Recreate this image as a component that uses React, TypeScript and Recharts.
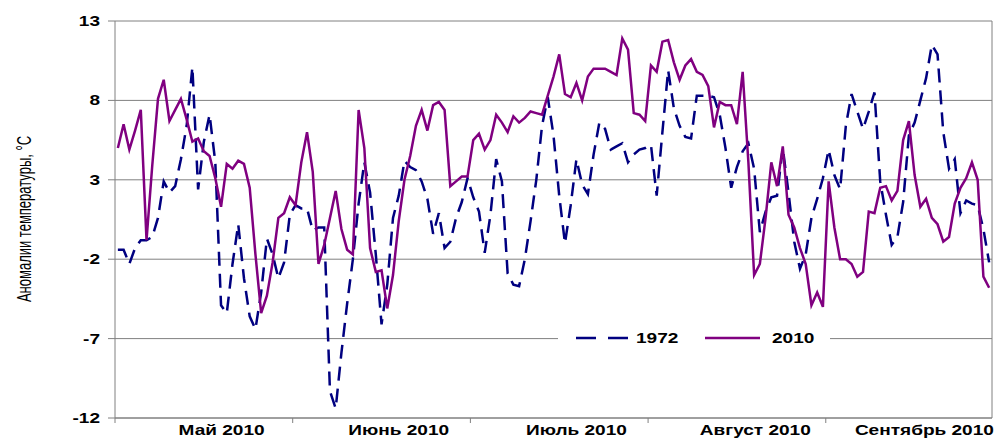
import React from 'react';
import { LineChart, Line, XAxis, YAxis, CartesianGrid, Legend, ReferenceLine } from 'recharts';

// daily anomalies, 1 May .. 30 Sep (153 days)
const y1972 = [
  -1.4, -1.4, -2.3, -1.3, -0.8, -0.8, -0.6, 0.6, 2.9, 2.2,
  2.6, 4.3, 6.4, 10.1, 2.4, 5.4, 7.1, 4.1, -4.9, -5.4,
  -2.3, 0.2, -3.2, -5.6, -6.4, -4.1, -0.7, -1.7, -3.2, -2.2,
  0.8, 1.4, 1.2, 1.2, -0.2, 0.0, 0.0, -10.3, -11.4, -7.9,
  -4.8, -2.0, 1.5, 4.1, 2.2, -1.7, -6.1, -3.6, 0.6, 2.0,
  4.2, 3.8, 3.6, 2.9, 1.8, -0.4, 0.9, -1.3, -0.9, 0.6,
  1.6, 3.1, 1.9, 1.0, -1.6, 0.8, 4.3, 2.9, -2.9, -3.6,
  -3.7, -2.0, 0.4, 3.0, 6.4, 8.2, 5.8, 2.0, -1.0, 1.4,
  4.3, 2.7, 2.1, 4.6, 6.6, 6.2, 4.9, 5.1, 5.3, 4.1,
  4.6, 4.9, 5.0, 5.2, 2.0, 6.0, 9.9, 7.5, 6.4, 5.7,
  5.6, 8.3, 8.3, 8.3, 8.2, 7.1, 5.0, 2.5, 3.8, 4.8,
  5.3, 3.7, -0.3, 1.0, 1.9, 2.0, 5.0, 2.2, -0.9, -2.6,
  -1.7, 0.6, 1.8, 3.1, 4.9, 3.3, 2.4, 6.4, 8.4, 7.3,
  6.2, 7.3, 8.5, 2.9, 0.8, -1.1, -0.6, 1.6, 5.8, 6.6,
  8.0, 9.4, 11.5, 10.9, 6.0, 3.7, 4.3, 0.9, 1.7, 1.5,
  1.4, -0.1, -2.2,
];

const y2010 = [
  5.0, 6.5, 4.9, 6.1, 7.4, -0.8, 3.9, 8.1, 9.3, 6.7,
  7.4, 8.1, 6.8, 5.4, 5.6, 4.8, 4.5, 3.1, 1.3, 4.0,
  3.7, 4.2, 4.0, 2.5, -1.7, -5.4, -4.3, -2.2, 0.6, 0.9,
  1.9, 1.4, 4.1, 6.0, 3.5, -2.3, -1.1, 0.6, 2.3, -0.1,
  -1.4, -1.7, 7.4, 5.0, -1.3, -2.8, -2.7, -5.1, -3.0, 0.4,
  3.0, 4.5, 6.4, 7.4, 6.1, 7.7, 7.9, 7.4, 2.6, 2.9,
  3.2, 3.2, 5.5, 5.9, 4.9, 5.5, 7.1, 6.6, 6.0, 7.0,
  6.6, 6.9, 7.3, 7.2, 7.1, 8.3, 9.5, 10.9, 8.4, 8.2,
  9.1, 8.0, 9.5, 10.0, 10.0, 10.0, 9.8, 9.6, 11.9, 11.2,
  7.2, 7.1, 6.7, 10.2, 9.8, 11.7, 11.8, 10.4, 9.3, 10.2,
  10.6, 9.8, 9.6, 8.9, 6.3, 7.9, 7.7, 7.7, 6.5, 9.8,
  4.1, -3.0, -2.3, 0.6, 4.1, 2.6, 5.1, 0.8, 0.0, -1.3,
  -2.3, -4.9, -4.1, -5.0, 2.9, 0.0, -2.0, -2.0, -2.3, -3.1,
  -2.8, 1.0, 0.9, 2.5, 2.6, 1.7, 2.3, 5.5, 6.7, 3.3,
  1.3, 1.8, 0.6, 0.2, -0.9, -0.6, 1.5, 2.5, 3.1, 4.1,
  3.0, -3.1, -3.8,
];

const monthTicks = [0, 31, 62, 93, 124];
const monthLabels = ['Май 2010', 'Июнь 2010', 'Июль 2010', 'Август 2010', 'Сентябрь 2010'];
const monthLabelPos = [18.6, 49.5, 80.5, 111.7, 141.2];
const yTicks = [-12, -7, -2, 3, 8, 13];

const DAYS = y1972.length;
const data = y1972.map((v, i) => ({ day: i + 0.5, y1972: v, y2010: y2010[i] }));

const W = 995;
const H = 431;
const YAXIS_W = 107;
const RIGHT = 11;
const UNIT = (W - YAXIS_W - RIGHT) / DAYS;
const FONT = 'Liberation Sans, Arial, sans-serif';
const SX = 1.36; // the original picture is stretched sideways

const MonthTick = (props: any) => {
  const { x, y, index } = props;
  const cx = x + (monthLabelPos[index] - monthTicks[index]) * UNIT;
  return (
    <text transform={`translate(${cx},${y + 10}) scale(${SX},1)`} textAnchor="middle"
      fontFamily={FONT} fontWeight="bold" fontSize={14} fill="#000">
      {monthLabels[index]}
    </text>
  );
};

const ValueTick = (props: any) => {
  const { x, y, payload } = props;
  return (
    <text transform={`translate(${x},${y}) scale(${SX},1)`} textAnchor="end" dy="0.35em"
      fontFamily={FONT} fontWeight="bold" fontSize={14} fill="#000">
      {payload.value}
    </text>
  );
};

const YLabel = () => (
  <text transform={`translate(23,211) scale(1.5,1) rotate(-90)`} textAnchor="middle"
    fontFamily={FONT} fontSize={13} fill="#000">
    Аномалии температуры, °С
  </text>
);

const renderLegend = () => (
  <svg width={272} height={20} style={{ display: 'block' }}>
    <rect width={272} height={20} fill="#fff" />
    <line x1={18} x2={72} y1={10} y2={10} stroke="#000080" strokeWidth={2.5} strokeDasharray="20 12" />
    <text transform={`translate(78,15) scale(${SX},1)`} fontFamily={FONT} fontWeight="bold" fontSize={14}>1972</text>
    <line x1={147} x2={202} y1={10} y2={10} stroke="#800080" strokeWidth={2.5} />
    <text transform={`translate(214,15) scale(${SX},1)`} fontFamily={FONT} fontWeight="bold" fontSize={14}>2010</text>
  </svg>
);

export default function App() {
  return (
    <LineChart width={W} height={H} data={data} margin={{ top: 13, right: RIGHT, bottom: 0, left: 0 }}>
      <CartesianGrid vertical={false} stroke="#808080" />
      <XAxis type="number" dataKey="day" domain={[0, DAYS]} ticks={monthTicks} interval={0}
        height={21} tickSize={5} tick={MonthTick} stroke="#808080" />
      <YAxis type="number" domain={[-12, 13]} ticks={yTicks} interval={0} width={YAXIS_W}
        tickSize={7} tickMargin={8} tick={ValueTick} stroke="#808080"
        label={{ content: YLabel }} />
      <ReferenceLine x={DAYS} stroke="#808080" />
      <Legend content={renderLegend} layout="horizontal" verticalAlign="middle" align="center"
        wrapperStyle={{ position: 'absolute', left: 550, top: 320, width: 272, height: 20, lineHeight: 0 }} />
      <Line type="linear" dataKey="y1972" stroke="#000080" strokeWidth={2.5} strokeDasharray="14 8"
        dot={false} isAnimationActive={false} />
      <Line type="linear" dataKey="y2010" stroke="#800080" strokeWidth={2.5}
        dot={false} isAnimationActive={false} />
    </LineChart>
  );
}
